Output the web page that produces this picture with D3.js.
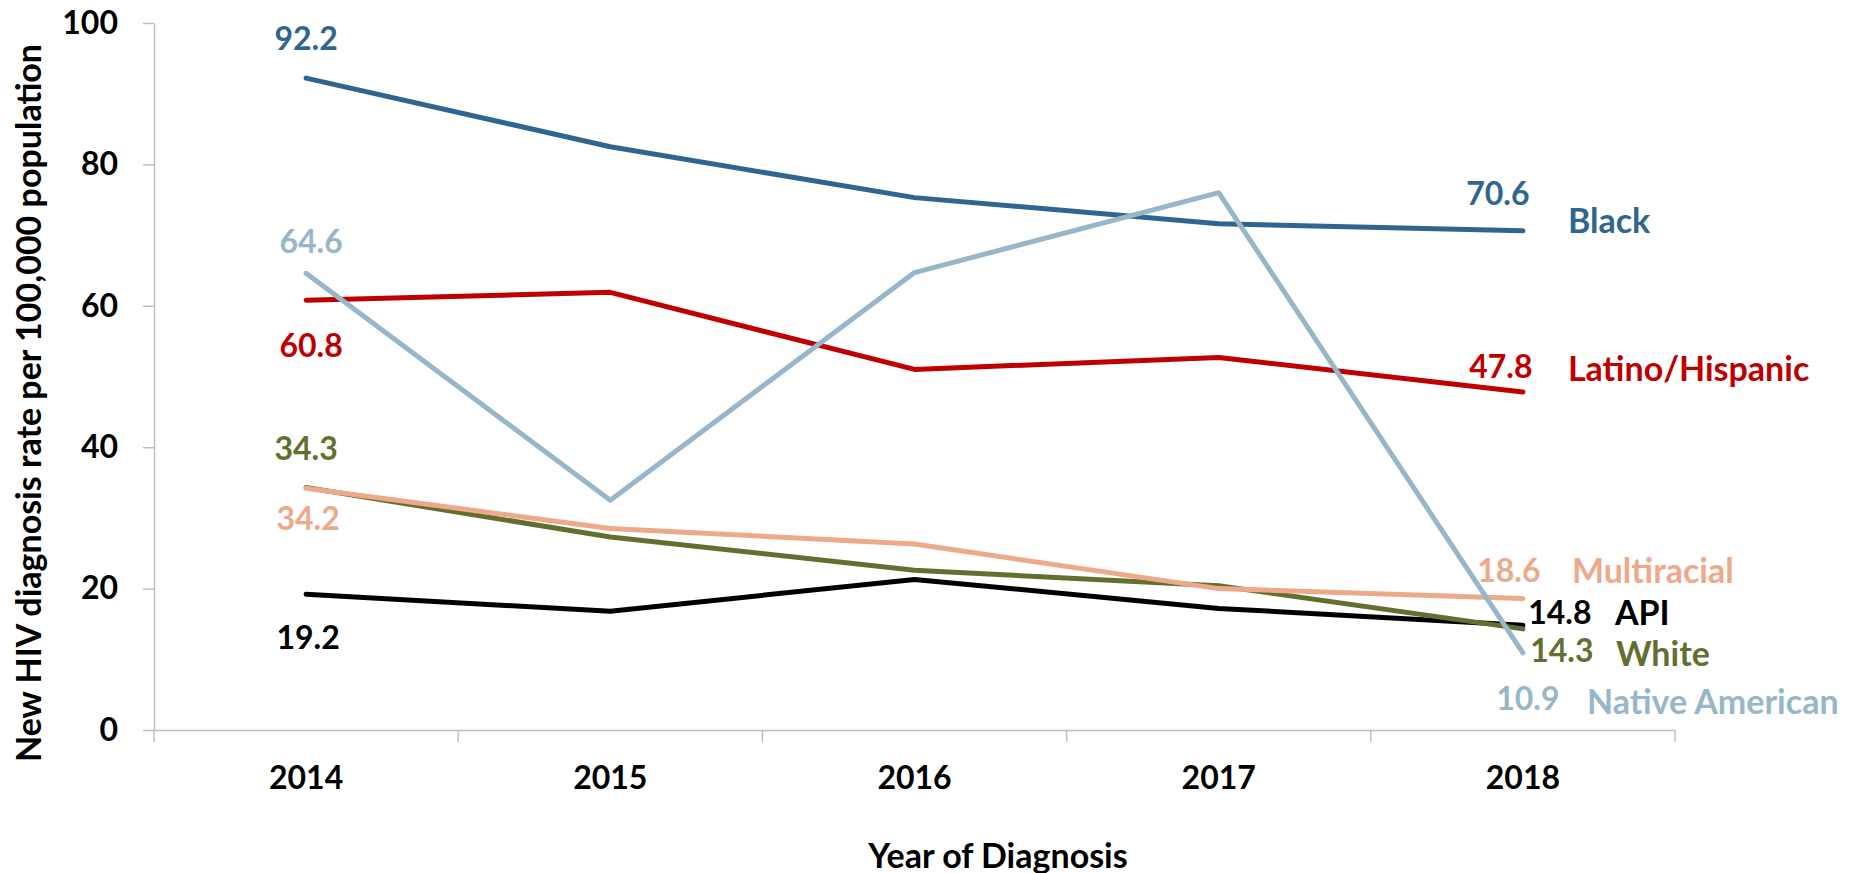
<!DOCTYPE html>
<html>
<head>
<meta charset="utf-8">
<script src="https://cdn.jsdelivr.net/npm/d3@7"></script>
<style>
  body { margin: 0; background: #fff; }
  text { font-family: Lato, "Open Sans", sans-serif; font-weight: bold; }
</style>
</head>
<body>
<div id="chart-container"></div>
<script>
// Years on the x axis
var years = ["2014", "2015", "2016", "2017", "2018"];
var yTicks = [0, 20, 40, 60, 80, 100];

// New HIV diagnosis rate per 100,000, by race/ethnicity
var black = [92.2, 82.5, 75.3, 71.6, 70.6];
var latino = [60.8, 61.9, 51.0, 52.7, 47.8];
var nativeAmerican = [64.6, 32.5, 64.7, 76.0, 10.9];
var multiracial = [34.2, 28.5, 26.3, 20.0, 18.6];
var white = [34.3, 27.3, 22.6, 20.4, 14.3];
var api = [19.2, 16.8, 21.3, 17.2, 14.8];

var seriesNames = ["Black", "Latino/Hispanic", "Native American", "Multiracial", "White", "API"];

var width = 1856, height = 873;
var margin = {top: 23, right: 181, bottom: 143, left: 154};
var plotW = width - margin.left - margin.right,
    plotH = height - margin.top - margin.bottom;

var svg = d3.select("#chart-container")
    .append("svg")
    .attr("width", width)
    .attr("height", height);

var plot = svg.append("g")
    .attr("transform", "translate(" + margin.left + "," + margin.top + ")");

var x = d3.scaleBand().domain(years).range([0, plotW]).padding(0);
var y = d3.scaleLinear().domain([0, 100]).range([plotH, 0]);

var axisColor = "#bfbfbf";

// y axis
var yAxis = plot.append("g")
    .call(d3.axisLeft(y).tickValues(yTicks).tickSize(11).tickSizeOuter(0).tickPadding(25));
yAxis.select(".domain").attr("stroke", axisColor).attr("stroke-width", 1.5);
yAxis.selectAll(".tick line").attr("stroke", axisColor).attr("stroke-width", 1.5);
yAxis.selectAll(".tick text")
    .attr("fill", "#000")
    .style("font-size", "32px")
    .style("font-family", "Lato, sans-serif")
    .style("font-weight", "bold");

// x axis: labels at band centres, tick marks at band edges
var xAxis = plot.append("g")
    .attr("transform", "translate(0," + plotH + ")")
    .call(d3.axisBottom(x).tickSize(0).tickSizeOuter(0).tickPadding(36));
xAxis.select(".domain").attr("stroke", axisColor).attr("stroke-width", 1.5);
xAxis.selectAll(".tick text")
    .attr("fill", "#000")
    .style("font-size", "32px")
    .style("font-family", "Lato, sans-serif")
    .style("font-weight", "bold");

var edges = years.map(function(d) { return x(d); }).concat([x(years[years.length - 1]) + x.bandwidth()]);
xAxis.selectAll("line.edge")
    .data(edges)
    .enter().append("line")
    .attr("class", "edge")
    .attr("x1", function(d) { return d; })
    .attr("x2", function(d) { return d; })
    .attr("y1", 0)
    .attr("y2", 12)
    .attr("stroke", axisColor)
    .attr("stroke-width", 1.5);

// axis titles
svg.append("text")
    .attr("x", 998)
    .attr("y", 854)
    .attr("text-anchor", "middle")
    .attr("dominant-baseline", "central")
    .style("font-size", "34px")
    .text("Year of Diagnosis");

svg.append("text")
    .attr("transform", "translate(27,403) rotate(-90)")
    .attr("text-anchor", "middle")
    .attr("dominant-baseline", "central")
    .style("font-size", "34px")
    .text("New HIV diagnosis rate per 100,000 population");

// series styling and label offsets (first value label, last value label, series name)
var styles = {
    "Black":           {color: "#2e6591", first: [0, -41],  last: [-25, -38], name: [45, -11]},
    "Latino/Hispanic": {color: "#c00000", first: [5, 44],   last: [-22, -27], name: [45, -25]},
    "Native American": {color: "#98b6ca", first: [5, -33],  last: [5, 45],    name: [64, 48]},
    "Multiracial":     {color: "#eda989", first: [2, 29],   last: [-14, -29], name: [49, -29]},
    "White":           {color: "#636f2f", first: [0, -40],  last: [39, 21],   name: [93, 24]},
    "API":             {color: "#000000", first: [2, 42],   last: [37, -14],  name: [92, -14]}
};

var seriesValues = [black, latino, nativeAmerican, multiracial, white, api];
var series = seriesNames.map(function(name, i) {
    return {
        name: name,
        values: years.map(function(yr, j) { return {year: yr, value: seriesValues[i][j]}; })
    };
});

var line = d3.line()
    .x(function(d) { return x(d.year) + x.bandwidth() / 2; })
    .y(function(d) { return y(d.value); });

// draw lines in the order the original stacks them
var drawOrder = ["API", "White", "Multiracial", "Latino/Hispanic", "Black", "Native American"];
drawOrder.forEach(function(name) {
    var s = series.find(function(d) { return d.name === name; });
    plot.append("path")
        .datum(s.values)
        .attr("fill", "none")
        .attr("stroke", styles[name].color)
        .attr("stroke-width", 5)
        .attr("stroke-linejoin", "round")
        .attr("stroke-linecap", "round")
        .attr("d", line);
});

// labels
series.forEach(function(s) {
    var st = styles[s.name];
    var first = s.values[0], last = s.values[s.values.length - 1];
    var cx0 = x(first.year) + x.bandwidth() / 2, cx1 = x(last.year) + x.bandwidth() / 2;

    plot.append("text")
        .attr("x", cx0 + st.first[0])
        .attr("y", y(first.value) + st.first[1])
        .attr("text-anchor", "middle")
        .attr("dominant-baseline", "central")
        .attr("fill", st.color)
        .style("font-size", "32px")
        .text(first.value.toFixed(1));

    plot.append("text")
        .attr("x", cx1 + st.last[0])
        .attr("y", y(last.value) + st.last[1])
        .attr("text-anchor", "middle")
        .attr("dominant-baseline", "central")
        .attr("fill", st.color)
        .style("font-size", "32px")
        .text(last.value.toFixed(1));

    plot.append("text")
        .attr("x", cx1 + st.name[0])
        .attr("y", y(last.value) + st.name[1])
        .attr("dominant-baseline", "central")
        .attr("fill", st.color)
        .style("font-size", "34px")
        .text(s.name);
});
</script>
</body>
</html>
